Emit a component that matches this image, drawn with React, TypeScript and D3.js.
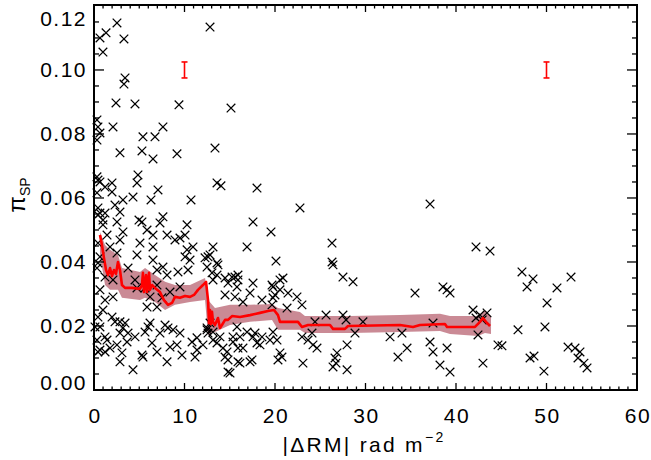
import React from "react";
import * as d3 from "d3";

// ---- data (|ΔRM| in rad m^-2, π_SP) ----
const pointsUpper: [number, number][] = [
  [0.66,0.1100],[1.33,0.1116],[2.54,0.1147],[3.31,0.1097],[0.99,0.1056],[3.43,0.0975],[3.31,0.0956],
  [2.43,0.0897],[4.53,0.0894],[9.39,0.0891],[12.82,0.1134],[0.44,0.0822],[0.66,0.0803],[2.10,0.0822],
  [2.87,0.0741],[5.41,0.0791],[6.74,0.0791],[7.62,0.0822],[5.30,0.0747],[6.52,0.0722],[9.17,0.0738],
  [13.37,0.0756],[15.14,0.0881],[0.33,0.0844],[0.33,0.0781],[0.44,0.0656],[1.22,0.0634],[1.99,0.0619],
];
const pointsMid: [number, number][] = [
  [0.33,0.0666],[0.66,0.0650],[1.99,0.0647],[4.86,0.0672],[4.75,0.0647],[7.07,0.0625],[6.30,0.0594],
  [4.31,0.0603],[3.20,0.0594],[2.32,0.0578],[0.33,0.0616],[0.44,0.0569],[0.66,0.0553],[1.22,0.0553],
  [2.87,0.0556],[2.54,0.0525],[5.30,0.0525],[4.97,0.0531],[7.62,0.0541],[10.72,0.0594],[13.59,0.0647],
  [0.99,0.0516],[1.44,0.0484],[3.20,0.0494],[2.87,0.0469],[5.86,0.0500],[6.52,0.0484],[8.07,0.0484],
  [8.95,0.0469],[10.06,0.0484],[5.08,0.0459],[6.52,0.0447],[1.77,0.0447],[0.44,0.0459],[0.66,0.0416],
  [2.54,0.0428],[10.28,0.0438],[10.06,0.0416],[6.52,0.0406],[12.60,0.0416],[13.59,0.0397],
  [0.44,0.0547],[0.99,0.0531],[10.28,0.0516],[17.57,0.0525],[19.56,0.0494],[10.94,0.0447],[13.15,0.0447],
  [16.91,0.0447],[4.75,0.0422],[7.29,0.0522],[9.50,0.0475],
];
const pointsLow: [number, number][] = [
  [0.44,0.0397],[0.33,0.0381],[1.22,0.0353],[2.10,0.0344],[0.66,0.0313],[1.22,0.0281],[2.10,0.0291],
  [3.76,0.0381],[4.53,0.0344],[4.75,0.0319],[5.64,0.0319],[6.96,0.0375],[7.62,0.0384],[8.07,0.0359],
  [6.96,0.0328],[7.51,0.0288],[6.19,0.0291],[5.86,0.0259],[6.96,0.0259],[8.40,0.0306],[9.28,0.0369],
  [9.50,0.0322],[10.39,0.0375],[10.61,0.0406],[12.27,0.0413],[13.70,0.0391],[13.59,0.0359],[14.48,0.0350],
  [14.81,0.0334],[15.58,0.0353],[15.91,0.0359],[17.57,0.0334],[18.56,0.0281],[19.78,0.0322],[20.00,0.0297],
  [0.99,0.0250],[1.99,0.0228],[0.44,0.0228],[0.11,0.0197],[0.66,0.0197],[1.22,0.0166],[2.87,0.0213],
  [3.20,0.0194],[2.87,0.0178],[3.65,0.0150],[4.53,0.0166],[5.64,0.0181],[5.97,0.0197],[6.19,0.0209],
  [7.85,0.0203],[8.18,0.0194],[8.73,0.0188],[9.50,0.0178],[7.29,0.0178],[6.41,0.0147],[8.40,0.0134],
  [9.17,0.0141],[6.96,0.0119],[3.09,0.0116],[2.87,0.0088],[4.31,0.0063],[5.30,0.0109],[1.77,0.0131],
  [0.44,0.0119],[0.33,0.0156],[11.38,0.0163],[11.38,0.0125],[13.15,0.0156],[12.49,0.0188],[14.25,0.0131],
  [14.70,0.0119],[14.81,0.0094],[15.03,0.0053],[16.13,0.0084],[17.46,0.0094],[18.56,0.0166],[19.78,0.0181],
  [20.22,0.0156],[15.36,0.0166],[15.91,0.0131],[16.91,0.0181],[17.57,0.0166],
  [0.66,0.0125],[1.22,0.0119],[2.32,0.0213],[3.43,0.0209],[8.07,0.0088],[9.72,0.0109],[11.16,0.0103],
  [10.83,0.0150],[5.41,0.0103],[2.54,0.0141],[3.76,0.0178],[1.44,0.0156],[14.81,0.0056],[17.24,0.0088],
];
const pointsStep: [number, number][] = [
  [12.82,0.0422],[12.49,0.0384],[13.04,0.0366],[13.15,0.0344],[15.25,0.0353],[15.91,0.0344],[15.80,0.0322],
  [19.67,0.0328],[20.11,0.0403],[14.48,0.0297],[15.58,0.0291],[17.24,0.0303],[16.46,0.0275],[19.78,0.0288],
  [19.67,0.0266],[12.82,0.0209],[12.49,0.0194],[12.60,0.0178],[13.15,0.0181],[13.92,0.0166],[13.59,0.0147],
  [14.48,0.0103],[12.04,0.0141],[15.80,0.0197],[16.13,0.0166],[15.36,0.0150],[17.79,0.0178],[18.01,0.0147],
  [18.34,0.0141],[19.45,0.0156],[16.46,0.0131],[15.91,0.0088],
];
const pointsFar: [number, number][] = [
  [14.03,0.0638],[18.01,0.0631],[22.76,0.0569],[37.13,0.0581],[26.30,0.0459],[20.88,0.0350],[20.55,0.0344],
  [20.55,0.0313],[21.44,0.0303],[22.43,0.0291],[22.98,0.0266],[21.33,0.0256],[26.30,0.0400],[26.41,0.0391],
  [27.51,0.0353],[28.62,0.0338],[35.47,0.0303],[38.56,0.0322],[39.01,0.0313],[39.34,0.0303],[41.88,0.0250],
  [42.65,0.0234],[43.43,0.0241],[25.64,0.0234],[27.51,0.0234],[27.85,0.0219],[29.72,0.0213],[37.46,0.0209],
  [42.43,0.0172],[28.84,0.0178],[24.42,0.0213],[20.55,0.0116],[20.77,0.0103],[20.33,0.0094],[23.09,0.0084],
  [22.98,0.0166],[23.65,0.0156],[24.20,0.0141],[24.64,0.0131],[24.09,0.0178],[27.96,0.0141],[26.85,0.0116],
  [26.63,0.0100],[26.74,0.0084],[26.41,0.0072],[27.96,0.0063],[32.71,0.0166],[34.03,0.0178],[34.59,0.0131],
  [33.59,0.0103],[37.13,0.0150],[37.46,0.0119],[39.01,0.0131],[38.23,0.0078],[39.34,0.0056],[42.98,0.0084],
  [44.64,0.0141],
  [42.21,0.0447],[43.76,0.0434],[47.29,0.0369],[48.51,0.0347],[47.85,0.0322],[51.16,0.0319],[52.71,0.0353],
  [50.06,0.0272],[46.85,0.0188],[49.83,0.0197],[45.08,0.0138],[48.18,0.0100],[48.62,0.0106],[49.72,0.0059],
  [52.38,0.0134],[53.15,0.0131],[53.70,0.0119],[53.48,0.0100],[54.14,0.0084],[54.48,0.0069],[42.21,0.0225],
  [42.9,0.0219],
];

// running median
const medX = [0.66,0.88,1.10,1.33,1.55,1.77,1.99,2.21,2.43,2.65,2.87,3.09,3.43,4.20,5.08,5.30,5.41,5.52,5.75,5.86,
  6.08,6.19,6.41,6.74,7.29,7.73,8.18,8.62,8.95,9.50,10.06,10.61,11.05,11.49,12.04,12.38,12.60,12.71,12.82,12.93,
  13.04,13.15,13.37,13.70,13.92,14.14,14.48,14.81,15.25,16.13,17.24,18.34,19.23,19.89,20.33,20.55,22.54,22.98,
  23.65,26.08,26.41,27.73,28.07,33.81,35.25,36.02,38.78,39.01,42.10,42.65,42.98,43.31,43.76];
const medY = [0.0484,0.0453,0.0413,0.0375,0.0359,0.0381,0.0356,0.0375,0.0363,0.0400,0.0375,0.0328,0.0319,0.0319,
  0.0316,0.0328,0.0366,0.0306,0.0359,0.0306,0.0366,0.0313,0.0328,0.0319,0.0306,0.0281,0.0266,0.0272,0.0291,0.0288,
  0.0294,0.0291,0.0297,0.0313,0.0328,0.0338,0.0281,0.0209,0.0250,0.0206,0.0244,0.0213,0.0203,0.0225,0.0194,0.0203,
  0.0219,0.0219,0.0231,0.0228,0.0234,0.0241,0.0247,0.0250,0.0234,0.0213,0.0213,0.0197,0.0203,0.0203,0.0191,0.0191,
  0.0200,0.0203,0.0197,0.0203,0.0206,0.0197,0.0197,0.0213,0.0225,0.0213,0.0200];

// uncertainty band around the median
const bandX = [0.66,1.22,1.77,2.65,3.09,5.08,5.64,6.74,7.85,8.95,10.61,12.27,12.60,13.37,15.03,17.24,19.67,20.33,
  22.76,23.31,28.29,33.81,38.23,39.34,42.43,43.20,43.87];
const bandHi = [0.0494,0.0453,0.0438,0.0422,0.0381,0.0369,0.0381,0.0359,0.0338,0.0328,0.0328,0.0350,0.0281,0.0256,
  0.0266,0.0266,0.0269,0.0256,0.0244,0.0231,0.0231,0.0234,0.0238,0.0231,0.0231,0.0250,0.0231];
const bandLo = [0.0422,0.0328,0.0313,0.0313,0.0288,0.0281,0.0288,0.0275,0.0250,0.0266,0.0275,0.0281,0.0172,0.0181,
  0.0203,0.0213,0.0219,0.0188,0.0188,0.0178,0.0178,0.0181,0.0184,0.0175,0.0169,0.0178,0.0175];

// typical error bars
const errX = [10, 50];
const errY = [0.100, 0.100];
const errHalf = [0.0025, 0.0025];

const xTicks = [0, 10, 20, 30, 40, 50, 60];
const yTicks = [0.0, 0.02, 0.04, 0.06, 0.08, 0.1, 0.12];
const yTickLabels = ["0.00", "0.02", "0.04", "0.06", "0.08", "0.10", "0.12"];

const W = 651, H = 460;
const L = 94, R = 637, T = 5, B = 390;
const FONT = "'Liberation Sans', Arial, Helvetica, sans-serif";

export default function App() {
  const x = d3.scaleLinear().domain([0, 60]).range([L, R]);
  const y = d3.scaleLinear().domain([0, 0.1203]).range([B, T]);
  const allPts = [...pointsUpper, ...pointsMid, ...pointsLow, ...pointsStep, ...pointsFar];

  const area = d3.area<number>()
    .x((_, i) => x(bandX[i]))
    .y0((_, i) => y(bandLo[i]))
    .y1((_, i) => y(bandHi[i]));
  const line = d3.line<number>()
    .x((_, i) => x(medX[i]))
    .y((_, i) => y(medY[i]));

  const xMinor = d3.range(0, 61, 1);
  const yMinor = d3.range(0, 24).map((i) => i * 0.005);
  const s = 4.3;

  return (
    <svg width={W} height={H} style={{ position: "absolute", left: 0, top: 0, background: "#fff" }}>
      <rect x={0} y={0} width={W} height={H} fill="#fff" />
      <path d={area(bandX) || ""} fill="#c7848f" fillOpacity={0.95} />
      <g stroke="#000" strokeWidth={1.25} fill="none">
        {allPts.map((p, i) => {
          const cx = x(p[0]), cy = y(p[1]);
          return <path key={i} d={`M${cx - s},${cy - s}L${cx + s},${cy + s}M${cx - s},${cy + s}L${cx + s},${cy - s}`} />;
        })}
      </g>
      <path d={line(medX) || ""} fill="none" stroke="#ff0000" strokeWidth={2.6} strokeLinejoin="round" />
      <g stroke="#ff0000" strokeWidth={1.6}>
        {errX.map((ex, i) => (
          <g key={i}>
            <line x1={x(ex)} x2={x(ex)} y1={y(errY[i] - errHalf[i])} y2={y(errY[i] + errHalf[i])} />
            <line x1={x(ex) - 3} x2={x(ex) + 3} y1={y(errY[i] - errHalf[i])} y2={y(errY[i] - errHalf[i])} />
            <line x1={x(ex) - 3} x2={x(ex) + 3} y1={y(errY[i] + errHalf[i])} y2={y(errY[i] + errHalf[i])} />
          </g>
        ))}
      </g>
      <g stroke="#000" strokeWidth={1.3}>
        {xMinor.map((v) => {
          const len = v % 10 === 0 ? 7 : 3.5;
          return (
            <g key={"x" + v}>
              <line x1={x(v)} x2={x(v)} y1={B} y2={B - len} />
              <line x1={x(v)} x2={x(v)} y1={T} y2={T + len} />
            </g>
          );
        })}
        {yMinor.map((v, i) => {
          const len = i % 4 === 0 ? 10 : 5;
          return (
            <g key={"y" + i}>
              <line x1={L} x2={L + len} y1={y(v)} y2={y(v)} />
              <line x1={R} x2={R - len} y1={y(v)} y2={y(v)} />
            </g>
          );
        })}
      </g>
      <rect x={L} y={T} width={R - L} height={B - T} fill="none" stroke="#000" strokeWidth={2} />
      <g fontFamily={FONT} fontSize={21} fill="#000" style={{ letterSpacing: "1.5px" }}>
        {xTicks.map((v) => (
          <text key={"xl" + v} x={x(v) + 1} y={423} textAnchor="middle">{v}</text>
        ))}
        {yTicks.map((v, i) => (
          <text key={"yl" + i} x={87} y={Math.max(18, Math.min(382, y(v)))} textAnchor="end" dominantBaseline="central">
            {yTickLabels[i]}
          </text>
        ))}
      </g>
      <text x={364} y={452} textAnchor="middle" fontFamily={FONT} fontSize={21} style={{ letterSpacing: "2.3px" }}>
        |ΔRM| rad m<tspan fontSize={14} dy={-10}>−2</tspan>
      </text>
      <g transform="translate(25,195) rotate(-90)">
        <text x={0} y={0} textAnchor="middle" fontFamily={FONT} fontSize={24}>
          π<tspan fontSize={14} dy={5}>SP</tspan>
        </text>
      </g>
    </svg>
  );
}
